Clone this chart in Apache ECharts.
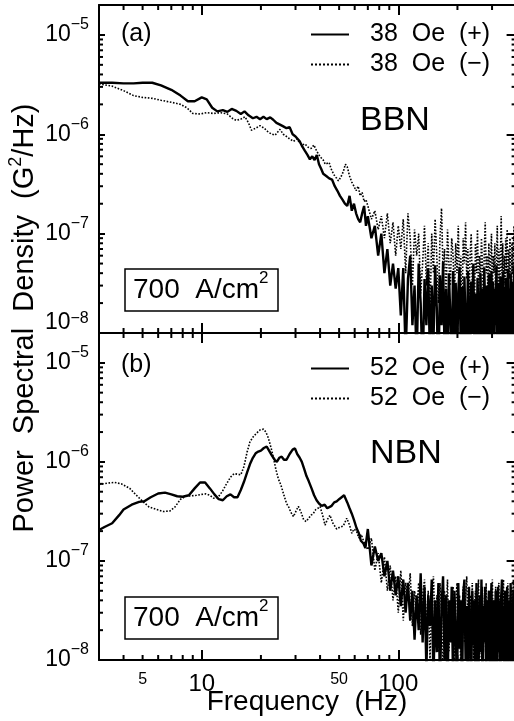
<!DOCTYPE html>
<html>
<head>
<meta charset="utf-8">
<script src="https://cdn.jsdelivr.net/npm/echarts@6/dist/echarts.min.js"></script>
<style>
  html, body { margin: 0; padding: 0; background: #fff; }
  #main { width: 514px; height: 721px; }
</style>
</head>
<body>
<div id="main"></div>
<script>
const FONT = '"Liberation Sans", Arial, Helvetica, sans-serif';
const X_MIN = 3, X_MAX = 400, Y_MIN = 1e-8, Y_MAX = 2e-5;

const A_POS = '38  Oe  (+)', A_NEG = '38  Oe  (\u2212)';
const B_POS = '52  Oe  (+)', B_NEG = '52  Oe  (\u2212)';

// (a) BBN, 38 Oe (+)  -- smooth part below 70 Hz
const aPosFreq = [3.0, 3.5, 4.0, 4.5, 5.0, 5.6, 6.2, 7.0, 7.8, 8.5, 9.2, 10.0, 10.6, 11.3, 12.0, 12.8, 13.5, 14.2, 15.0, 15.8,
  16.5, 17.3, 18.2, 19.0, 19.8, 20.6, 21.4, 22.3, 23.1, 24.0, 25.0, 26.0, 27.0, 28.0, 29.0, 30.0, 31.5, 32.5, 33.5, 34.5,
  35.5, 36.5, 37.5, 38.5, 39.5, 40.5, 41.5, 43, 44.5, 46, 47.5, 49, 50.5, 52, 53.5, 55, 56.5, 58, 59.5, 61,
  62.5, 64, 65.5, 67, 68.5];
const aPosPsd = [3.3e-6, 3.3e-6, 3.25e-6, 3.25e-6, 3.3e-6, 3.3e-6, 3.1e-6, 2.8e-6, 2.45e-6, 2.15e-6, 2.15e-6, 2.35e-6, 2.25e-6, 1.85e-6, 1.7e-6, 1.75e-6, 1.68e-6, 1.8e-6, 1.72e-6, 1.6e-6,
  1.7e-6, 1.55e-6, 1.45e-6, 1.5e-6, 1.42e-6, 1.5e-6, 1.42e-6, 1.48e-6, 1.4e-6, 1.3e-6, 1.25e-6, 1.2e-6, 1.15e-6, 1.18e-6, 1.0e-6, 9.5e-7, 8.5e-7, 7.5e-7, 6.8e-7, 6.2e-7,
  5.6e-7, 6.0e-7, 5.5e-7, 6.2e-7, 5.0e-7, 4.5e-7, 4.0e-7, 3.8e-7, 3.6e-7, 3.5e-7, 3.0e-7, 2.7e-7, 2.4e-7, 2.2e-7, 2.0e-7, 1.9e-7, 2.4e-7, 1.7e-7, 2.0e-7, 1.6e-7,
  1.4e-7, 1.3e-7, 1.6e-7, 1.9e-7, 1.2e-7];

// (a) BBN, 38 Oe (-)
const aNegFreq = [3.0, 3.5, 4.0, 4.5, 5.0, 5.6, 6.2, 7.0, 7.8, 8.4, 9.0, 9.8, 10.6, 11.5, 12.5, 13.5, 14.3, 15.0, 15.8, 16.6,
  17.3, 17.9, 18.8, 19.8, 20.8, 21.8, 22.8, 23.6, 24.3, 25.0, 26.0, 27.0, 28.0, 29.3, 30.5, 31.5, 32.5, 33.5, 34.8, 36.0,
  37.2, 38.4, 39.5, 40.5, 41.5, 42.5, 43.5, 44.5, 45.5, 46.5, 47.5, 48.6, 49.6, 51, 52.5, 53.8, 55, 56.5, 58, 59.5,
  61, 62.5, 64, 65.5, 67, 68.5];
const aNegPsd = [3.2e-6, 3.05e-6, 2.75e-6, 2.45e-6, 2.35e-6, 2.3e-6, 2.2e-6, 2.1e-6, 2.0e-6, 1.85e-6, 1.62e-6, 1.6e-6, 1.65e-6, 1.62e-6, 1.65e-6, 1.6e-6, 1.45e-6, 1.38e-6, 1.42e-6, 1.5e-6,
  1.3e-6, 1.1e-6, 1.15e-6, 1.22e-6, 1.15e-6, 1.05e-6, 1.0e-6, 9.8e-7, 1.05e-6, 1.12e-6, 1.0e-6, 9.5e-7, 9.0e-7, 8.5e-7, 9.0e-7, 8.2e-7, 7.8e-7, 8.0e-7, 7.4e-7, 7.2e-7,
  7.8e-7, 6.8e-7, 6.2e-7, 5.8e-7, 5.5e-7, 5.0e-7, 4.8e-7, 5.2e-7, 4.5e-7, 4.1e-7, 3.8e-7, 3.6e-7, 3.4e-7, 3.7e-7, 4.2e-7, 5.0e-7, 4.7e-7, 3.8e-7, 3.3e-7, 3.0e-7,
  2.7e-7, 3.0e-7, 2.4e-7, 2.6e-7, 2.1e-7, 2.2e-7];

// (b) NBN, 52 Oe (+)
const bPosFreq = [3.0, 3.2, 3.5, 3.8, 4.0, 4.4, 4.8, 5.1, 5.5, 6.0, 6.5, 7.0, 7.5, 8.0, 8.6, 9.2, 9.8, 10.4, 11.0, 11.6,
  12.2, 12.8, 13.4, 14.0, 14.6, 15.2, 15.8, 16.4, 17.0, 17.6, 18.2, 18.8, 19.4, 20.0, 20.7, 21.4, 22.0, 22.8, 23.5, 24.1,
  24.8, 25.5, 26.2, 27.0, 28.0, 29.0, 29.8, 30.6, 31.5, 32.3, 33.2, 34.1, 35.0, 36.2, 37.3, 38.4, 39.5, 40.8, 42.2, 43.5,
  44.5, 45.8, 47.2, 48.6, 50.0, 51.5, 53.0, 54.0, 55.0, 56.5, 58.0, 59.5, 61.3, 63.0, 64.5, 66.5, 68.0];
const bPosPsd = [2.05e-7, 2.2e-7, 2.4e-7, 2.9e-7, 3.3e-7, 3.7e-7, 3.95e-7, 4.0e-7, 4.4e-7, 4.8e-7, 4.9e-7, 4.7e-7, 4.5e-7, 4.45e-7, 4.6e-7, 5.4e-7, 6.2e-7, 6.2e-7, 5.4e-7, 4.7e-7,
  4.2e-7, 4.1e-7, 4.5e-7, 4.7e-7, 4.4e-7, 4.4e-7, 5.2e-7, 6.3e-7, 7.8e-7, 9.5e-7, 1.1e-6, 1.22e-6, 1.27e-6, 1.3e-6, 1.38e-6, 1.43e-6, 1.3e-6, 1.15e-6, 1.05e-6, 1.0e-6,
  1.1e-6, 1.13e-6, 1.05e-6, 1.05e-6, 1.2e-6, 1.33e-6, 1.37e-6, 1.2e-6, 1.1e-6, 1.0e-6, 8.5e-7, 7.2e-7, 6.4e-7, 5.4e-7, 4.6e-7, 4.1e-7, 3.8e-7, 3.6e-7, 3.7e-7, 3.4e-7,
  3.3e-7, 3.6e-7, 3.9e-7, 4.0e-7, 4.2e-7, 4.4e-7, 4.6e-7, 4.5e-7, 3.9e-7, 3.4e-7, 3.0e-7, 2.6e-7, 2.15e-7, 1.9e-7, 1.6e-7, 1.5e-7, 1.35e-7];

// (b) NBN, 52 Oe (-)
const bNegFreq = [3.0, 3.3, 3.6, 3.9, 4.3, 4.6, 5.0, 5.4, 5.9, 6.4, 6.9, 7.3, 7.8, 8.3, 8.9, 9.4, 10.0, 10.5, 11.0, 11.5,
  12.1, 12.7, 13.3, 14.0, 14.6, 15.3, 15.8, 16.4, 17.0, 17.6, 18.3, 19.0, 19.8, 20.6, 21.2, 21.8, 22.5, 23.1, 23.8, 24.5,
  25.3, 26.2, 27.0, 27.6, 28.4, 29.3, 30.2, 31.0, 32.0, 33.0, 34.0, 35.0, 36.0, 36.9, 38.0, 39.0, 40.0, 41.2, 42.4, 43.5,
  44.9, 46.5, 48.6, 50.5, 52.5, 54.7, 56.5, 58.0, 59.5, 61.3, 63.0, 64.8, 66.5, 68.0];
const bNegPsd = [5.9e-7, 6.1e-7, 6.2e-7, 6.0e-7, 5.4e-7, 4.7e-7, 4.0e-7, 3.5e-7, 3.3e-7, 3.15e-7, 3.2e-7, 3.5e-7, 4.2e-7, 4.5e-7, 4.55e-7, 4.6e-7, 4.7e-7, 4.75e-7, 4.6e-7, 4.3e-7,
  4.4e-7, 5.0e-7, 5.9e-7, 7.0e-7, 7.6e-7, 7.5e-7, 7.4e-7, 9.0e-7, 1.25e-6, 1.6e-6, 1.8e-6, 1.95e-6, 2.1e-6, 2.14e-6, 2.0e-6, 1.75e-6, 1.4e-6, 1.13e-6, 8.5e-7, 6.8e-7,
  5.8e-7, 4.6e-7, 3.8e-7, 3.55e-7, 3.1e-7, 2.8e-7, 3.2e-7, 3.55e-7, 3.1e-7, 2.6e-7, 2.5e-7, 2.7e-7, 2.9e-7, 3.0e-7, 3.3e-7, 3.4e-7, 3.55e-7, 2.9e-7, 2.3e-7, 2.6e-7,
  2.9e-7, 2.4e-7, 2.1e-7, 2.2e-7, 2.25e-7, 2.7e-7, 2.3e-7, 1.9e-7, 2.1e-7, 2.0e-7, 1.7e-7, 1.85e-7, 1.6e-7, 1.45e-7];

// noisy part: one value every 3 Hz from 70 Hz to 400 Hz, in units of 1e-8 G^2/Hz
const NOISE_F0 = 70, NOISE_DF = 3, NOISE_UNIT = 1e-8;
const aPosNoise = [15, 9, 12, 6, 10, 4, 7, 3, 5, 2.8, 4.5,
  1.5, 4.5, 0.6, 3.5, 6, 1.2, 3, 0.5, 5, 2,
  0.4, 3.5, 1.2, 4.4, 0.5, 3, 0.8, 4.8, 1.8, 0.3,
  3.8, 1.2, 5.2, 0.6, 2.8, 0.4, 4.0, 1.5, 0.5, 4.2,
  0.8, 3.2, 0.4, 2.6, 4.6, 0.6, 2.9, 0.3, 3.7, 1.2,
  0.5, 4.1, 1.6, 0.4, 3.3, 1.0, 4.9, 0.5, 2.5, 0.3,
  3.6, 1.4, 0.4, 4.0, 0.8, 2.8, 0.5, 4.5, 1.5, 0.4,
  3.0, 0.9, 3.9, 0.3, 2.4, 4.2, 0.6, 3.3, 0.4, 2.8,
  1.2, 4.8, 0.5, 3.2, 1.0, 0.3, 3.7, 1.6, 0.5, 4.1,
  0.8, 2.9, 0.4, 3.6, 1.3, 0.3, 4.4, 0.9, 2.8, 0.5,
  4.0, 1.5, 0.4, 3.3, 0.7, 4.7, 1.2, 0.3, 3.0, 0.8];
const aNegNoise = [19, 14, 17, 11, 15, 9, 16, 8, 13, 6, 12,
  7, 14, 4, 16, 9, 3, 11, 6, 10, 2.5,
  5, 12, 3, 8, 1.5, 10, 4, 14, 6, 2,
  9, 18, 4, 7, 1.8, 11, 5, 3, 9, 6,
  2.2, 8, 4, 12, 3, 6, 1.6, 9, 5, 13,
  3.5, 7, 2, 6, 10, 3, 5, 1.5, 8, 4,
  11, 2.5, 6, 3, 9, 5, 2, 7, 13, 4,
  6, 2.2, 8, 3, 5, 10, 2.5, 6, 4, 8,
  1.8, 5, 12, 3, 7, 2, 6, 15, 4, 8,
  2.5, 6, 3, 9, 4, 11, 2, 7, 3.5, 9,
  5, 2, 8, 4, 6, 12, 3, 7, 2.5, 9];
const bPosNoise = [21, 9, 14, 10, 12, 7, 10, 5, 8, 4.5,
  7, 3.5, 6.5, 3, 6, 2.5, 5, 1.6, 4.5, 2,
  7.5, 1.5, 5.5, 0.8, 4.5, 2.2, 6.5, 0.6, 4, 1.2,
  6, 0.5, 3.5, 7, 1, 4.5, 0.4, 4, 1.5, 5.5,
  0.6, 5, 2, 0.5, 6, 1.3, 4, 0.4, 4.5, 6.5,
  1, 3.5, 0.5, 5.5, 2, 0.6, 5, 1.4, 4, 0.4,
  6, 2, 0.7, 4.5, 1.2, 6.5, 0.5, 3.5, 1.5, 5.5,
  0.4, 4, 1, 5, 0.6, 3, 6, 0.8, 4, 1.5,
  0.4, 5, 2, 0.6, 5.5, 1.2, 4, 0.5, 4.5, 6.5,
  1, 3.5, 0.4, 5, 1.6, 0.5, 5.5, 2.2, 0.7, 4,
  1.2, 6, 0.5, 3.5, 1.5, 5, 0.6, 4, 1, 5.5, 0.8];
const bNegNoise = [13, 17, 8, 12, 6, 11, 5, 9, 4, 7,
  3, 8, 2.5, 6, 4, 7.5, 2.2, 5, 3, 6,
  1.8, 4.5, 6.5, 2, 5, 1, 3.5, 7, 2, 4.5,
  1.2, 6, 3, 0.7, 5, 2.5, 6.5, 1.2, 4, 2,
  5.5, 0.8, 3.5, 6, 2, 4.5, 0.7, 3, 5.5, 1.5,
  4, 7, 2, 0.6, 4.5, 2.5, 6, 1, 3.5, 5,
  1.5, 4, 6.5, 0.8, 3, 2, 5.5, 1.2, 4.5, 2.5,
  6, 0.9, 3.5, 5, 1.5, 4, 0.7, 6.5, 2.5, 4,
  1.2, 5.5, 3, 0.8, 4.5, 6, 1.8, 3.5, 0.6, 5,
  2.5, 6.5, 1.2, 3.5, 5, 1, 4, 6, 2, 0.7,
  4.5, 2.5, 5.5, 1.2, 3.5, 6.5, 1.5, 4, 0.8, 5, 2.5];

// tick helpers
const xMinorTicks = [4, 5, 6, 7, 8, 9, 20, 30, 40, 50, 60, 70, 80, 90, 200, 300];
const xMinorLabels = [5, 50];
const xMajorLabels = [10, 100];
const yMinorTicks = [];
[-8, -7, -6].forEach(e => { for (let m = 2; m <= 9; m++) yMinorTicks.push(m * Math.pow(10, e)); });

function spectrum(freq, psd, noise) {
  const pts = freq.map((f, i) => [f, psd[i]]);
  noise.forEach((v, i) => pts.push([NOISE_F0 + i * NOISE_DF, v * NOISE_UNIT]));
  return pts;
}

const chart = echarts.init(document.getElementById('main'), null, { renderer: 'canvas' });

const supRich = {
  b: { fontSize: 23, fontFamily: FONT, color: '#000', lineHeight: 36 },
  s: { fontSize: 16, fontFamily: FONT, color: '#000', lineHeight: 16, verticalAlign: 'top' },
  bu: { fontSize: 23, fontFamily: FONT, color: '#000', lineHeight: 36, verticalAlign: 'top' },
  su: { fontSize: 16, fontFamily: FONT, color: '#000', lineHeight: 16, verticalAlign: 'top' },
  z: { fontSize: 1, lineHeight: 44 }
};

function xAxis(grid, pos, labels) {
  return {
    type: 'log', logBase: 10, gridIndex: grid, position: pos, min: X_MIN, max: X_MAX,
    axisLine: { show: true, onZero: false, lineStyle: { color: '#000', width: 2 } },
    axisTick: { show: true, inside: true, length: 10, lineStyle: { color: '#000', width: 2 } },
    axisLabel: labels ? {
      show: true, margin: 12, fontSize: 24, fontFamily: FONT, color: '#000',
      showMinLabel: false, showMaxLabel: false,
      formatter: v => xMajorLabels.find(m => Math.abs(m - v) < 1e-6 * m) ? String(Math.round(v)) : ''
    } : { show: false },
    splitLine: { show: false }
  };
}

function yAxis(grid, pos, labels, raiseMin) {
  return {
    type: 'log', logBase: 10, gridIndex: grid, position: pos, min: Y_MIN, max: Y_MAX,
    axisLine: { show: true, onZero: false, lineStyle: { color: '#000', width: 2 } },
    axisTick: { show: true, inside: true, length: pos === 'left' ? 6 : 10, lineStyle: { color: '#000', width: 2 } },
    axisLabel: labels ? {
      show: true, margin: 10, showMaxLabel: false, rich: supRich,
      formatter: v => {
        const e = Math.round(Math.log10(v));
        if (raiseMin && e === -8) return '{bu|10}{su|\u2212' + (-e) + '}{z| }';
        return '{b|10}{s|\u2212' + (-e) + '}';
      }
    } : { show: false },
    splitLine: { show: false }
  };
}

// short minor ticks (2..9 of each decade) on all four sides of a panel
function minorTickSeries(xi, yi) {
  const data = xMinorTicks.map(v => [v, Y_MIN, 0]).concat(yMinorTicks.map(v => [X_MIN, v, 1]));
  return {
    type: 'custom', xAxisIndex: xi, yAxisIndex: yi, silent: true, clip: false, z: 10,
    data,
    renderItem: (params, api) => {
      const st = () => ({ stroke: '#000', lineWidth: 2 });
      if (api.value(2) === 0) {
        const v = api.value(0);
        const b = api.coord([v, Y_MIN]), t = api.coord([v, Y_MAX]);
        return { type: 'group', children: [
          { type: 'line', shape: { x1: b[0], y1: b[1], x2: b[0], y2: b[1] - 5 }, style: st() },
          { type: 'line', shape: { x1: t[0], y1: t[1], x2: t[0], y2: t[1] + 5 }, style: st() }
        ] };
      }
      const w = api.value(1);
      const l = api.coord([X_MIN, w]), r = api.coord([X_MAX, w]);
      return { type: 'group', children: [
        { type: 'line', shape: { x1: l[0], y1: l[1], x2: l[0] + 4, y2: l[1] }, style: st() },
        { type: 'line', shape: { x1: r[0], y1: r[1], x2: r[0] - 5, y2: r[1] }, style: st() }
      ] };
    }
  };
}

function line(name, data, xi, yi, dotted) {
  return {
    name, type: 'line', xAxisIndex: xi, yAxisIndex: yi, data,
    showSymbol: false, symbol: 'none', smooth: false, z: dotted ? 3 : 4,
    lineStyle: { color: '#000', width: dotted ? 1.6 : 2.4, type: dotted ? 'dotted' : 'solid' },
    itemStyle: { color: '#000' }
  };
}

function legend(names, top) {
  return {
    data: names, orient: 'vertical', left: 305, top, itemWidth: 38, itemHeight: 14, itemGap: 5,
    selectedMode: false,
    itemStyle: { color: 'rgba(0,0,0,0)', borderWidth: 0 },
    textStyle: { fontSize: 25, fontFamily: FONT, color: '#000', padding: [0, 0, 0, 16] }
  };
}

function boxLabel(y) {
  return {
    type: 'group', children: [
      { type: 'rect', shape: { x: 125, y, width: 153, height: 42 }, style: { fill: '#fff', stroke: '#000', lineWidth: 1.5 }, z: 20 },
      { type: 'text', x: 133, y: y + 21, z: 21, style: {
        text: '{t|700  A/cm}{s|2}', verticalAlign: 'middle',
        rich: {
          t: { fontSize: 28, fontFamily: FONT, fill: '#000', lineHeight: 40 },
          s: { fontSize: 17, fontFamily: FONT, fill: '#000', lineHeight: 17, verticalAlign: 'top' }
        }
      } }
    ]
  };
}

function annot(text, x, y, size) {
  return { type: 'text', x, y, z: 20, style: { text, fontSize: size, fontFamily: FONT, fill: '#000', verticalAlign: 'middle' } };
}

const option = {
  animation: false,
  backgroundColor: '#fff',
  grid: [
    { left: 99, top: 5, width: 417.6, height: 328, containLabel: false, outerBoundsMode: 'none' },
    { left: 99, top: 333, width: 417.6, height: 327, containLabel: false, outerBoundsMode: 'none' }
  ],
  xAxis: [xAxis(0, 'bottom', false), xAxis(0, 'top', false), xAxis(1, 'bottom', true), xAxis(1, 'top', false)],
  yAxis: [yAxis(0, 'left', true, true), yAxis(0, 'right', false), yAxis(1, 'left', true, false), yAxis(1, 'right', false)],
  legend: [legend([A_POS, A_NEG], 17), legend([B_POS, B_NEG], 351)],
  series: [
    line(A_NEG, spectrum(aNegFreq, aNegPsd, aNegNoise), 0, 0, true),
    line(A_POS, spectrum(aPosFreq, aPosPsd, aPosNoise), 0, 0, false),
    line(B_NEG, spectrum(bNegFreq, bNegPsd, bNegNoise), 2, 2, true),
    line(B_POS, spectrum(bPosFreq, bPosPsd, bPosNoise), 2, 2, false),
    minorTickSeries(0, 0),
    minorTickSeries(2, 2),
    {
      type: 'custom', xAxisIndex: 2, yAxisIndex: 2, silent: true, clip: false,
      data: xMinorLabels.map(v => [v, Y_MIN]),
      renderItem: (params, api) => {
        const p = api.coord([api.value(0), Y_MIN]);
        return { type: 'text', x: p[0], y: p[1] + 12, style: {
          text: String(api.value(0)), fontSize: 16, fontFamily: FONT, fill: '#000', align: 'center', verticalAlign: 'top'
        } };
      }
    }
  ],
  graphic: [
    annot('(a)', 121, 34, 25),
    annot('(b)', 121, 365, 25),
    annot('BBN', 360, 121, 34),
    annot('NBN', 370, 454, 34),
    boxLabel(269),
    boxLabel(597),
    { type: 'text', x: 307, y: 702, style: { text: 'Frequency  (Hz)', fontSize: 28, fontFamily: FONT, fill: '#000', align: 'center', verticalAlign: 'middle' } },
    { type: 'text', x: 25, y: 318, rotation: Math.PI / 2, style: {
      text: '{t|Power  Spectral  Density  (G}{s|2}{t|/Hz)}', align: 'center', verticalAlign: 'middle',
      rich: {
        t: { fontSize: 29, fontFamily: FONT, fill: '#000', lineHeight: 36 },
        s: { fontSize: 18, fontFamily: FONT, fill: '#000', lineHeight: 18, verticalAlign: 'top' }
      }
    } }
  ]
};

chart.setOption(option);
</script>
</body>
</html>
